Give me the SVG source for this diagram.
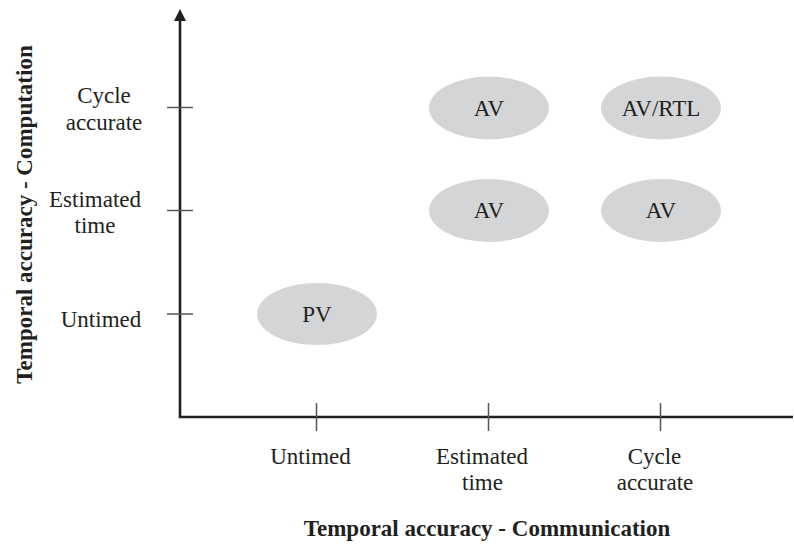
<svg xmlns="http://www.w3.org/2000/svg" width="794" height="546" viewBox="0 0 794 546">
<style>
text{font-family:"Liberation Serif","Times New Roman",serif;font-size:23px;fill:#231f20;text-anchor:middle}
.title{font-weight:bold}
.node ellipse{fill:#d4d5d7}
.axis{stroke:#231f20;stroke-width:2.6;fill:none}
.tick{stroke:#555;stroke-width:1.5}
</style>
<defs>
<marker id="arrow" markerWidth="12" markerHeight="12" refX="6" refY="11" orient="auto" markerUnits="userSpaceOnUse" viewBox="0 0 12 12">
<path d="M0,11 L6,0 L12,11 Z" fill="#231f20"/>
</marker>
</defs>
<rect width="794" height="546" fill="#fff"/>
<g id="connectors">
<path class="axis" d="M180,20 L180,417 L793,417"/>
<path d="M174,21 L180,9 L186,21 Z" fill="#231f20"/>
<line class="tick" x1="167" y1="107.5" x2="193" y2="107.5"/>
<line class="tick" x1="167" y1="210.5" x2="193" y2="210.5"/>
<line class="tick" x1="167" y1="314" x2="193" y2="314"/>
<line class="tick" x1="316.5" y1="403" x2="316.5" y2="431"/>
<line class="tick" x1="488.5" y1="403" x2="488.5" y2="431"/>
<line class="tick" x1="660.5" y1="403" x2="660.5" y2="431"/>
</g>
<g id="labels">
<text x="104" y="103">Cycle</text>
<text x="104" y="130">accurate</text>
<text x="95" y="207">Estimated</text>
<text x="95" y="233">time</text>
<text x="101" y="327">Untimed</text>
<text x="310.5" y="464">Untimed</text>
<text x="482" y="464">Estimated</text>
<text x="482.5" y="490">time</text>
<text x="654.5" y="464">Cycle</text>
<text x="655" y="490">accurate</text>
<text class="title" x="487" y="536">Temporal accuracy - Communication</text>
<text class="title" transform="translate(32,214.5) rotate(-90)" x="0" y="0">Temporal accuracy - Computation</text>
</g>
<g id="node-av-ca-ca" class="node"><ellipse cx="489" cy="108" rx="60" ry="31.5"/><text x="489" y="115.5">AV</text></g>
<g id="node-avrtl" class="node"><ellipse cx="661" cy="108" rx="60" ry="31.5"/><text x="661" y="115.5">AV/RTL</text></g>
<g id="node-av-et-et" class="node"><ellipse cx="489" cy="210.5" rx="60" ry="31.5"/><text x="489" y="218">AV</text></g>
<g id="node-av-et-ca" class="node"><ellipse cx="661" cy="210.5" rx="60" ry="31.5"/><text x="661" y="218">AV</text></g>
<g id="node-pv" class="node"><ellipse cx="317" cy="314" rx="60" ry="31"/><text x="317" y="321.5">PV</text></g>
</svg>
